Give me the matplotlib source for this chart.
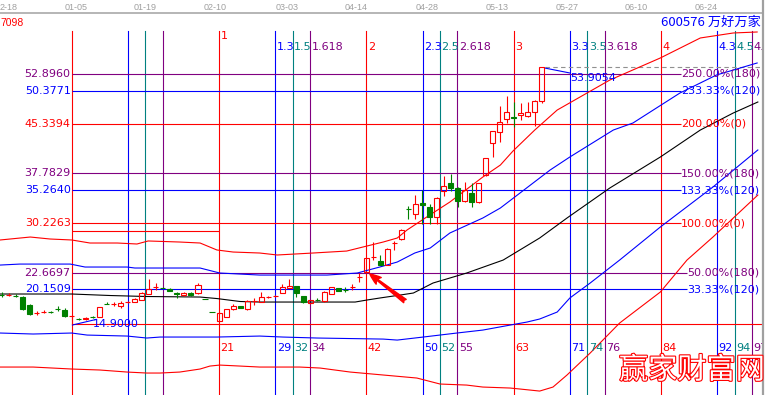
import matplotlib.pyplot as plt
import matplotlib.patheffects as pe
from matplotlib.patches import Rectangle
from matplotlib.transforms import blended_transform_factory

RED = "#ff0000"
BLUE = "#0000ff"
TEAL = "#008080"
PURPLE = "#800080"
GREEN = "#008000"
GRAY = "#a0a0a0"

# ---- candles (bar index -10 .. 67) ----
bars = list(range(-10, 68))
opens = [19.35, 19.25, 19.20, 19.00, 17.78, 16.50, 16.65, 16.75, 17.20, 17.02,
         16.05, 15.70, 15.65, 15.98, 15.96, 17.95, 17.90, 17.63, 18.20, 18.24,
         18.54, 19.45, 20.45, 20.52, 20.21, 19.61, 19.30, 19.61, 19.61, 18.72,
         16.74, 15.35, 15.96, 17.17, 17.63, 17.17, 18.35, 18.24, 18.95, 19.12,
         19.61, 20.37, 20.67, 19.15, 18.09, 18.56, 18.39, 19.45, 20.37, 20.08,
         20.48, 21.98, 22.80, 25.02, 24.47, 23.86, 27.15, 27.82, 32.40, 31.61,
         33.28, 32.68, 31.16, 35.11, 36.33, 35.57, 33.59, 34.81, 33.44, 37.54,
         42.41, 44.08, 46.05, 46.36, 46.66, 46.51, 47.12, 48.79]
highs = [19.70, 19.60, 19.40, 19.10, 17.90, 16.90, 17.10, 16.90, 17.60, 17.30,
         16.20, 15.85, 15.95, 16.10, 17.55, 18.25, 18.30, 18.40, 18.40, 18.80,
         19.70, 21.73, 21.13, 20.60, 20.30, 19.70, 19.70, 19.70, 21.10, 18.72,
         16.74, 16.70, 17.25, 17.90, 17.70, 18.50, 18.85, 19.76, 19.20, 19.30,
         20.97, 21.73, 20.70, 19.20, 18.60, 18.80, 19.90, 20.60, 20.40, 20.52,
         20.97, 22.65, 25.00, 27.36, 25.39, 26.40, 27.51, 29.30, 32.83, 34.50,
         35.26, 33.13, 34.20, 37.39, 37.69, 35.70, 36.48, 36.33, 36.40, 40.20,
         44.30, 48.03, 49.55, 48.64, 48.49, 48.64, 48.90, 53.9054]
lows = [19.00, 19.10, 18.95, 17.00, 16.30, 16.30, 16.50, 16.60, 16.90, 16.00,
        14.90, 15.45, 15.50, 15.80, 15.90, 17.90, 17.60, 17.40, 18.10, 18.20,
        18.50, 19.40, 20.06, 20.30, 19.85, 18.85, 19.20, 19.20, 19.50, 18.68,
        16.70, 15.30, 15.90, 17.10, 17.30, 17.10, 17.78, 18.20, 18.85, 19.00,
        19.55, 20.30, 19.00, 18.09, 18.00, 18.40, 18.30, 19.40, 19.85, 19.76,
        20.06, 21.28, 22.65, 24.62, 23.80, 23.80, 26.14, 27.70, 30.85, 30.85,
        30.09, 30.09, 30.09, 34.35, 35.11, 32.68, 33.50, 32.68, 33.30, 37.40,
        40.28, 42.56, 45.45, 44.84, 45.90, 46.40, 44.99, 48.49]
closes = [19.30, 19.32, 19.15, 17.17, 16.41, 16.60, 16.75, 16.70, 17.15, 16.11,
          16.15, 15.65, 15.80, 15.95, 17.48, 17.90, 17.95, 18.09, 18.26, 18.70,
          19.61, 20.21, 20.52, 20.37, 19.91, 19.45, 19.61, 19.30, 20.82, 18.68,
          16.70, 16.57, 17.17, 17.63, 17.33, 18.39, 18.42, 19.00, 19.02, 19.18,
          20.52, 20.67, 19.61, 18.24, 18.54, 18.52, 19.76, 20.52, 19.91, 20.04,
          20.55, 22.05, 24.93, 25.08, 23.86, 26.29, 27.21, 29.18, 32.35, 33.13,
          32.92, 31.16, 34.05, 35.87, 35.57, 33.59, 35.26, 33.44, 36.33, 40.13,
          44.23, 45.60, 47.12, 46.20, 46.97, 47.12, 48.79, 53.9054]

# ---- bands / moving average (bar index, price) ----
red_up_x = [-10.2, -5.9, -3.1, 0, 2.6, 6.5, 9.3, 10.9, 15.4, 18.3, 20.7, 23.0, 26.8,
            29.3, 34.4, 39.2, 41.5, 44.4, 46.4, 47.8, 50.6, 53.9, 58.6, 61.1, 62.9,
            66.0, 69.2, 76.7, 83.9, 89.6, 94.3, 97.7]
red_up_y = [27.67, 28.12, 27.82, 27.67, 27.21, 27.21, 27.06, 27.52, 27.36, 27.21,
            26.15, 25.84, 25.69, 25.39, 25.69, 25.99, 26.60, 27.36, 27.97, 29.19,
            31.16, 33.44, 37.24, 39.06, 41.19, 44.38, 47.42, 51.98, 55.33, 58.37,
            59.13, 59.28]
blue_up_x = [-10.2, -7.4, -0.2, 1.9, 7.9, 9.0, 18.3, 21.1, 26.8, 36.4, 40.7, 43.9,
             46.4, 48.9, 51.1, 53.9, 58.6, 61.1, 68.2, 71.0, 77.2, 80.0, 86.7, 91.9,
             97.7]
blue_up_y = [23.86, 24.01, 24.01, 23.56, 23.56, 23.41, 23.41, 22.65, 22.34, 22.34,
             22.65, 23.56, 24.32, 25.69, 26.45, 28.73, 31.01, 32.53, 38.31, 40.28,
             44.38, 45.45, 50.01, 52.74, 54.57]
ma_x = [-10.2, 0, 5.5, 10.7, 18.3, 20.7, 24.0, 26.8, 40.4, 42.1, 43.9, 46.8, 48.7,
        51.5, 56.3, 61.5, 66.7, 70.6, 76.7, 83.9, 89.6, 94.3, 97.8]
ma_y = [19.46, 19.46, 19.23, 19.08, 19.00, 18.77, 18.32, 18.24, 18.24, 18.55, 18.85,
        19.30, 19.61, 21.13, 22.65, 24.62, 27.97, 31.01, 35.57, 40.28, 44.38, 46.97,
        48.64]
blue_lo_x = [-10.2, -5.5, 0, 2.2, 7.9, 10.7, 12.6, 20.7, 26.8, 30.1, 35.0, 44.4,
             46.4, 50.1, 54.9, 58.6, 62.5, 64.9, 66.7, 69.2, 71.0, 73.9, 78.1, 83.9,
             91.4, 97.8]
blue_lo_y = [13.53, 13.38, 13.53, 13.22, 13.07, 12.77, 12.92, 12.92, 13.07, 12.92,
             12.77, 12.61, 12.46, 12.92, 13.53, 13.98, 14.74, 15.20, 15.66, 16.72,
             18.85, 21.13, 24.62, 29.64, 35.72, 41.35]
red_lo_x = [-10.2, -5.5, 0, 4.0, 7.9, 10.7, 12.6, 15.4, 18.3, 19.7, 21.1, 24.0, 26.8,
            29.0, 32.5, 35.4, 39.7, 44.4, 49.2, 52.5, 56.3, 58.6, 62.5, 63.9, 66.7,
            68.6, 70.6, 73.9, 78.1, 83.9, 87.7, 91.4, 97.8]
red_lo_y = [8.36, 8.36, 8.06, 7.91, 7.60, 7.45, 7.45, 7.60, 8.06, 8.51, 8.66, 8.51,
            8.36, 8.36, 8.36, 8.21, 7.60, 7.15, 6.69, 5.78, 5.62, 5.32, 5.17, 5.02,
            4.71, 5.32, 7.15, 10.49, 15.05, 19.76, 24.62, 28.12, 34.50]

# ---- price levels ----
levels = [52.8960, 50.3771, 45.3394, 37.7829, 35.2640, 30.2263, 22.6697, 20.1509]
level_colors = [PURPLE, BLUE, RED, PURPLE, BLUE, RED, PURPLE, BLUE]
level_pct = ["250.00%(180)", "233.33%(120)", "200.00%(0)", "150.00%(180)",
             "133.33%(120)", "100.00%(0)", "50.00%(180)", "33.33%(120)"]
level_end = [86.85, 86.85, 86.85, 86.85, 86.85, 86.85, 87.7, 87.7]
low_price = 14.9000
high_price = 53.9054
box_price = 29.03

# ---- time zones ----
time_x = [0, 8.02, 10.5, 12.98, 21, 29.02, 31.5, 33.98, 42, 50.02, 52.5, 54.98,
          63, 71.02, 73.5, 75.98, 84, 92.02, 94.5, 96.98]
time_colors = [RED, BLUE, TEAL, PURPLE] * 5
top_labels = ["", "", "", "", "1", "1.3", "1.5", "1.618", "2", "2.3", "2.5", "2.618",
              "3", "3.3", "3.5", "3.618", "4", "4.3", "4.5", "4."]
bottom_labels = ["", "", "", "", "21", "29", "32", "34", "42", "50", "52", "55",
                 "63", "71", "74", "76", "84", "92", "94", "97"]

date_x = [-10.22, 0.6, 10.5, 20.4, 30.7, 40.5, 50.6, 60.6, 70.6, 80.4, 90.5]
date_labels = ["2-18", "01-05", "01-19", "02-10", "03-03", "04-14", "04-28",
               "05-13", "05-27", "06-10", "06-24"]

fig = plt.figure(figsize=(7.73, 3.95), dpi=100)
ax = fig.add_axes([0, 0, 1, 1])
ax.set_xlim(-10.22, 99.96)
ax.set_ylim(4.112, 64.142)
ax.axis("off")
tb = blended_transform_factory(ax.transData, ax.transAxes)
lw = 0.8

# time zone lines
for x, c in zip(time_x, time_colors):
    ax.axvline(x, ymin=0, ymax=0.9215, color=c, lw=lw, zorder=1)
for x, c, t in zip(time_x, time_colors, top_labels):
    if t:
        yy = 0.909 if t == "1" else 0.881
        ax.text(x + 0.2, yy, t, transform=tb, color=c, fontsize=8,
                ha="left", va="center", zorder=5)
for x, c, t in zip(time_x, time_colors, bottom_labels):
    if t:
        ax.text(x + 0.2, 0.119, t, transform=tb, color=c, fontsize=8,
                ha="left", va="center", zorder=5)

# price levels
for p, c, t, e in zip(levels, level_colors, level_pct, level_end):
    ax.hlines(p, 0, e, color=c, lw=lw, zorder=1)
    ax.text(-0.15, p, "%.4f" % p, color=c, fontsize=8, ha="right", va="center", zorder=5)
    ax.text(e, p, t, color=c, fontsize=8, ha="left", va="center", zorder=5)
ax.hlines(low_price, 0, 98.4, color=RED, lw=lw, zorder=1)
ax.hlines(box_price, 0, 21, color=RED, lw=lw, zorder=1)
ax.hlines(high_price, 67.5, 98.4, color="#909090", lw=lw, linestyles=(0, (4, 3)), zorder=1)
ax.plot([0.1, 3.5], [14.75, 15.6], color=BLUE, lw=lw, zorder=2)
ax.plot([67.4, 71.0], [53.81, 53.05], color=BLUE, lw=lw, zorder=2)
ax.text(3.05, low_price, "%.4f" % low_price, color=BLUE, fontsize=8,
        ha="left", va="center", zorder=5)
ax.text(71.0, 53.0, "%.4f" % high_price, color=BLUE, fontsize=8,
        ha="left", va="top", zorder=5)

# bands
ax.plot(red_up_x, red_up_y, color=RED, lw=lw, zorder=2)
ax.plot(blue_up_x, blue_up_y, color=BLUE, lw=lw, zorder=2)
ax.plot(ma_x, ma_y, color="black", lw=lw, zorder=2)
ax.plot(blue_lo_x, blue_lo_y, color=BLUE, lw=lw, zorder=2)
ax.plot(red_lo_x, red_lo_y, color=RED, lw=lw, zorder=2)

# candles
w = 0.72
for i, o, h, l, c in zip(bars, opens, highs, lows, closes):
    up = c >= o
    col = RED if up else GREEN
    top, bot = max(o, c), min(o, c)
    if top - bot < 0.15:
        ax.vlines(i, l, h, color=col, lw=lw, zorder=3)
        ax.hlines((o + c) / 2, i - w / 2, i + w / 2, color=col, lw=lw, zorder=3)
        continue
    if up:
        ax.vlines(i, top, h, color=col, lw=lw, zorder=3)
        ax.vlines(i, l, bot, color=col, lw=lw, zorder=3)
        ax.add_patch(Rectangle((i - w / 2, bot), w, top - bot, fill=False,
                               edgecolor=col, lw=lw, zorder=3))
    else:
        ax.vlines(i, l, h, color=col, lw=lw, zorder=3)
        ax.add_patch(Rectangle((i - w / 2, bot), w, top - bot, facecolor=col,
                               edgecolor=col, lw=lw, zorder=3))

# arrow
ax.annotate("", xy=(42.5, 22.49), xytext=(47.5, 18.39),
            arrowprops=dict(arrowstyle="fancy,head_length=0.8,head_width=0.6,tail_width=0.3",
                            color=RED, mutation_scale=10, shrinkA=0, shrinkB=0), zorder=4)

# top date axis
for x, t in zip(date_x, date_labels):
    ax.text(x, 0.982, t, transform=tb, color=GRAY, fontsize=6.5, family="Liberation Sans",
            ha="left" if x < -10 else "center", va="center", zorder=5)
ax.axhline(64.142 - 0.152 * 13.3, color="#b0b0b0", lw=1.3, zorder=6)
ax.text(0.0, 0.943, "7098", transform=ax.transAxes, color=RED, fontsize=7.5,
        family="Liberation Sans", ha="left", va="center", zorder=5)
ax.text(0.9845, 0.944, "600576 万好万家", transform=ax.transAxes, color=BLUE, fontsize=9.5,
        family=["Noto Sans CJK SC", "DejaVu Sans"], ha="right", va="center", zorder=5)

# right border
ax.add_patch(Rectangle((763 / 773, 0), 1, 1, transform=ax.transAxes, facecolor="white",
                       edgecolor="none", zorder=9))
ax.axvline(98.54, color=GRAY, lw=1.6, zorder=10)

# watermark
ax.text(0.895, 0.062, "赢家财富网", transform=ax.transAxes, color="white", fontsize=21,
        family=["Noto Sans CJK SC", "DejaVu Sans"],
        path_effects=[pe.withStroke(linewidth=1.6, foreground=RED)],
        ha="center", va="center", zorder=11)

fig.savefig("out.png", dpi=100)
